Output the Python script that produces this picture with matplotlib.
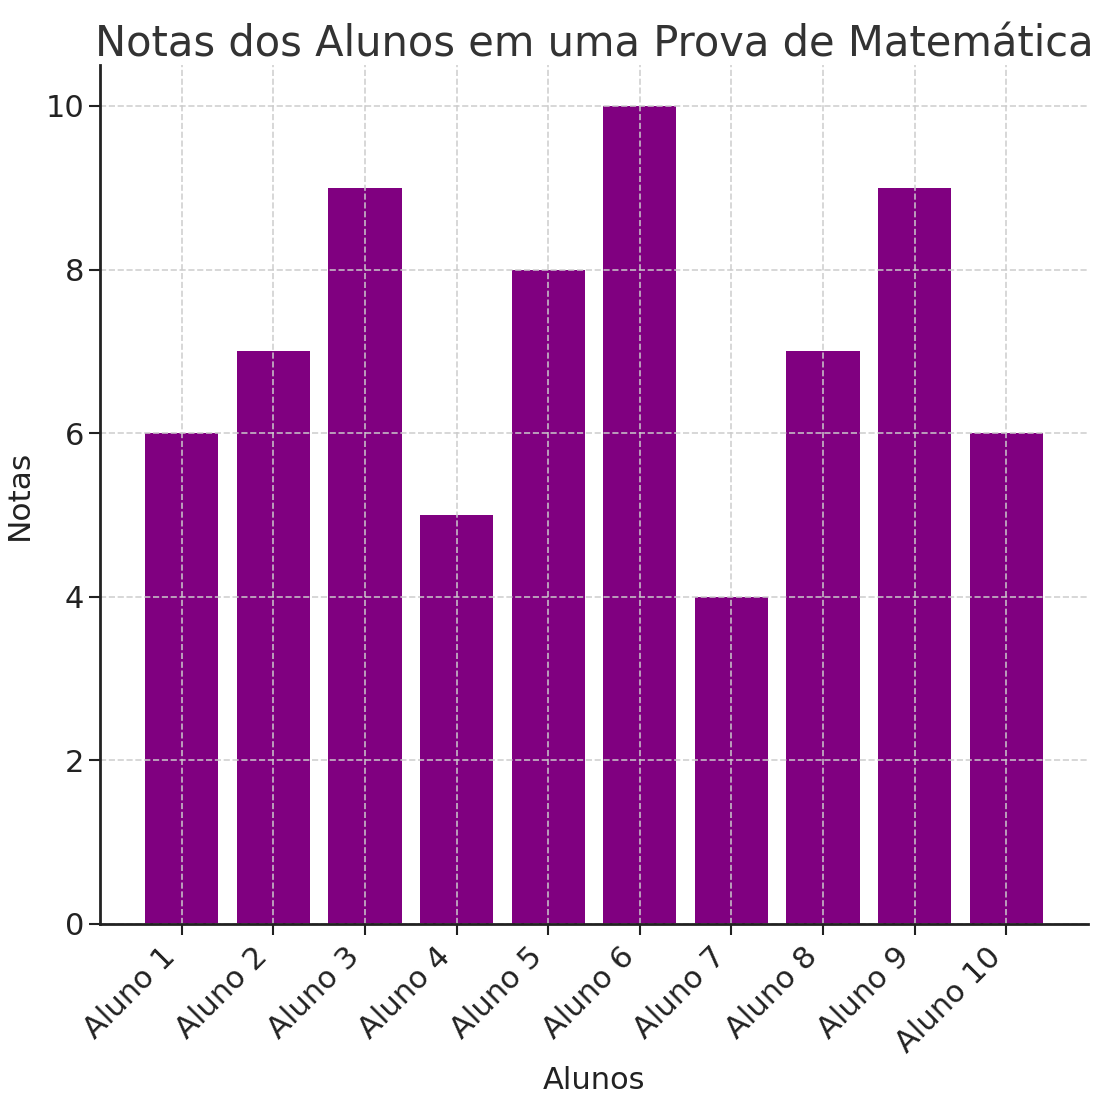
import matplotlib.pyplot as plt

# Dados
alunos = ["Aluno 1", "Aluno 2", "Aluno 3", "Aluno 4", "Aluno 5",
          "Aluno 6", "Aluno 7", "Aluno 8", "Aluno 9", "Aluno 10"]
notas = [6, 7, 9, 5, 8, 10, 4, 7, 9, 6]

fig = plt.figure(figsize=(11.04, 10.95), dpi=100)
ax = fig.add_axes([0.0906, 0.1562, 0.8949, 0.7844])

ax.bar(alunos, notas, color="purple", width=0.8)

ax.set_title("Notas dos Alunos em uma Prova de Matemática", fontsize=30, color="#333333", pad=6)
ax.set_xlabel("Alunos", fontsize=22, color="#222222", labelpad=6)
ax.set_ylabel("Notas", fontsize=22.5, color="#222222", labelpad=8)

ax.tick_params(axis="both", labelsize=22, colors="#222222", length=8, width=1.5)
ax.tick_params(axis="x", pad=5)
plt.setp(ax.get_xticklabels(), rotation=45, ha="right")

ax.grid(True, linestyle="--", color="#cccccc", linewidth=1.2, alpha=0.9)
ax.set_axisbelow(False)
for s in ["top", "right"]:
    ax.spines[s].set_visible(False)
for s in ["left", "bottom"]:
    ax.spines[s].set_linewidth(2)
    ax.spines[s].set_color("#222222")
    ax.spines[s].set_zorder(3)

fig.savefig("out.png", dpi=100)
